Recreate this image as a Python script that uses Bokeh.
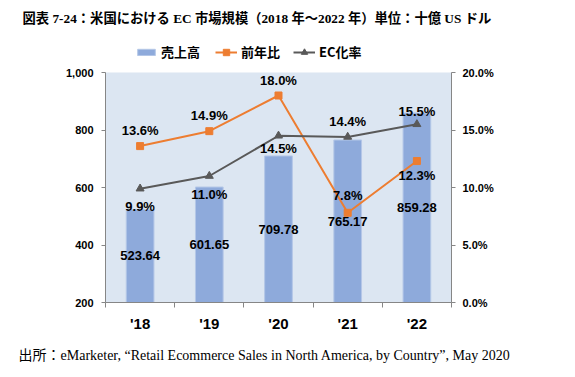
from bokeh.plotting import figure
from bokeh.layouts import column
from bokeh.models import (Range1d, LinearAxis, FixedTicker, NumeralTickFormatter,
                          Legend, LegendItem, Title, ColumnDataSource)
from bokeh.core.properties import value
from bokeh.embed import file_html
from bokeh.resources import INLINE

# ---- data ----
years = ["'18", "'19", "'20", "'21", "'22"]
sales = [523.64, 601.65, 709.78, 765.17, 859.28]        # 売上高 (十億USドル)
yoy = [13.6, 14.9, 18.0, 7.8, 12.3]                      # 前年比 (%)
ec_rate = [9.9, 11.0, 14.5, 14.4, 15.5]                  # EC化率 (%)
left_ticks = [200, 400, 600, 800, 1000]
right_ticks = [0.0, 5.0, 10.0, 15.0, 20.0]
series_names = ["売上高", "前年比", "EC化率"]

title_text = "図表 7-24：米国における EC 市場規模（2018 年～2022 年）単位：十億 US ドル"
source_text = "出所：eMarketer, “Retail Ecommerce Sales in North America, by Country”, May 2020"

# label placement styles (pixel offsets, negative = above)
yoy_off = [-16, -16, -15, -17, 14]
ec_off = [18, 18, 13, -15, -13]

BAR = "#8eaadb"
BAR_EDGE = "#b4c7e7"
ORANGE = "#ed7d31"
GRAY = "#595959"
AXIS = "#868686"
FONT = "Liberation Sans"
JFONT = "Noto Sans CJK JP"
SERIF = "Liberation Serif, Noto Sans CJK JP"
W = 559
BL, BR = 105, 108   # left / right borders (shared by header and chart)

# ---------------- header: title + legend ----------------
head = figure(width=W, height=64, x_range=Range1d(0, 1), y_range=Range1d(0, 1),
              output_backend="svg", toolbar_location=None,
              x_axis_location=None, y_axis_location=None,
              min_border_left=BL, min_border_right=BR, min_border_top=0, min_border_bottom=0)
head.outline_line_color = None
head.xgrid.visible = False
head.ygrid.visible = False
head.title = Title(text=title_text, align="left", offset=22 - BL, standoff=16,
                   text_font=SERIF, text_font_style="bold", text_font_size="13.3px",
                   text_color="black")

nan = float("nan")
hb = head.vbar(x=[nan], top=[nan], width=1, fill_color=BAR, line_color=BAR_EDGE)
hl1 = head.line(x=[nan], y=[nan], line_color=ORANGE, line_width=2)
hm1 = head.scatter(x=[nan], y=[nan], marker="square", size=7, fill_color=ORANGE, line_color=ORANGE)
hl2 = head.line(x=[nan], y=[nan], line_color=GRAY, line_width=2)
hm2 = head.scatter(x=[nan], y=[nan], marker="triangle", size=8, fill_color=GRAY, line_color=GRAY)

common = dict(orientation="horizontal", border_line_color=None, background_fill_alpha=0,
              label_text_font=JFONT, label_text_font_style="bold", label_text_font_size="13px",
              label_text_color="black", glyph_width=22, label_height=16, spacing=13,
              label_standoff=4, padding=0, margin=0)
leg_a = Legend(items=[LegendItem(label=series_names[0], renderers=[hb])],
               location=(135 - BL, 3), glyph_height=8, **common)
leg_b = Legend(items=[LegendItem(label=series_names[1], renderers=[hl1, hm1]),
                      LegendItem(label=series_names[2], renderers=[hl2, hm2])],
               location=(215 - BL, 3), glyph_height=16, **common)
head.add_layout(leg_a)
head.add_layout(leg_b)

# ---------------- main chart ----------------
xs = list(range(1, len(years) + 1))
base = left_ticks[0]

p = figure(width=W, height=310, x_range=Range1d(0.5, len(years) + 0.5),
           y_range=Range1d(left_ticks[0], left_ticks[-1]),
           output_backend="svg", toolbar_location=None,
           min_border_left=BL, min_border_right=BR, min_border_top=8, min_border_bottom=72)
p.background_fill_color = "#dce6f2"
p.border_fill_color = "white"
p.outline_line_color = None
p.xgrid.visible = False
p.ygrid.visible = False
p.extra_y_ranges = {"pct": Range1d(right_ticks[0] / 100, right_ticks[-1] / 100)}

xa = p.xaxis[0]
xa.ticker = FixedTicker(ticks=xs, minor_ticks=[x - 0.5 for x in xs] + [xs[-1] + 0.5])
xa.major_label_overrides = {x: y for x, y in zip(xs, years)}
xa.major_tick_line_color = None
xa.minor_tick_line_color = AXIS
xa.minor_tick_in = 0
xa.minor_tick_out = 5
xa.axis_line_color = AXIS
xa.major_label_text_font = FONT
xa.major_label_text_font_style = "bold"
xa.major_label_text_font_size = "15px"
xa.major_label_text_color = "black"
xa.major_label_standoff = 6

ya = p.yaxis[0]
ya.ticker = FixedTicker(ticks=left_ticks)
ya.formatter = NumeralTickFormatter(format="0,0")
ya.axis_line_color = AXIS
ya.major_tick_line_color = AXIS
ya.major_tick_in = 0
ya.major_tick_out = 4
ya.minor_tick_line_color = None
ya.major_label_text_font = FONT
ya.major_label_text_font_style = "bold"
ya.major_label_text_font_size = "11px"
ya.major_label_text_color = "black"
ya.major_label_standoff = 8

ra = LinearAxis(y_range_name="pct", ticker=FixedTicker(ticks=[t / 100 for t in right_ticks]),
                formatter=NumeralTickFormatter(format="0.0%"))
ra.axis_line_color = AXIS
ra.major_tick_line_color = AXIS
ra.major_tick_in = 0
ra.major_tick_out = 4
ra.minor_tick_line_color = None
ra.major_label_text_font = FONT
ra.major_label_text_font_style = "bold"
ra.major_label_text_font_size = "11px"
ra.major_label_text_color = "black"
ra.major_label_standoff = 7
p.add_layout(ra, "right")

bar_src = ColumnDataSource(dict(x=xs, top=sales, mid=[(v + base) / 2 for v in sales],
                                lab=[f"{v:.2f}" for v in sales]))
p.vbar(x="x", top="top", bottom=base, width=0.4, source=bar_src,
       fill_color=BAR, line_color=BAR_EDGE, line_width=1)
p.text(x="x", y="mid", text="lab", source=bar_src, text_align="center", text_baseline="middle",
       text_font=value(FONT), text_font_style="bold", text_font_size="13px", text_color="black")

yoy_src = ColumnDataSource(dict(x=xs, y=[v / 100 for v in yoy], lab=[f"{v:.1f}%" for v in yoy], off=yoy_off))
ec_src = ColumnDataSource(dict(x=xs, y=[v / 100 for v in ec_rate], lab=[f"{v:.1f}%" for v in ec_rate], off=ec_off))

p.line("x", "y", source=yoy_src, y_range_name="pct", line_color=ORANGE, line_width=2)
p.scatter("x", "y", source=yoy_src, y_range_name="pct", marker="square", size=7,
          fill_color=ORANGE, line_color=ORANGE)
p.line("x", "y", source=ec_src, y_range_name="pct", line_color=GRAY, line_width=2)
p.scatter("x", "y", source=ec_src, y_range_name="pct", marker="triangle", size=8,
          fill_color=GRAY, line_color=GRAY)

for src in (yoy_src, ec_src):
    p.text(x="x", y="y", text="lab", source=src, y_range_name="pct", y_offset="off",
           text_align="center", text_baseline="middle", text_font=value(FONT),
           text_font_style="bold", text_font_size="13px", text_color="black")

p.add_layout(Title(text=source_text, align="left", offset=18 - BL, standoff=22,
                   text_font=SERIF, text_font_style="normal", text_font_size="14px",
                   text_color="black"), "below")

layout = column(head, p, spacing=0)
open("out.html", "w").write(file_html(layout, INLINE))
